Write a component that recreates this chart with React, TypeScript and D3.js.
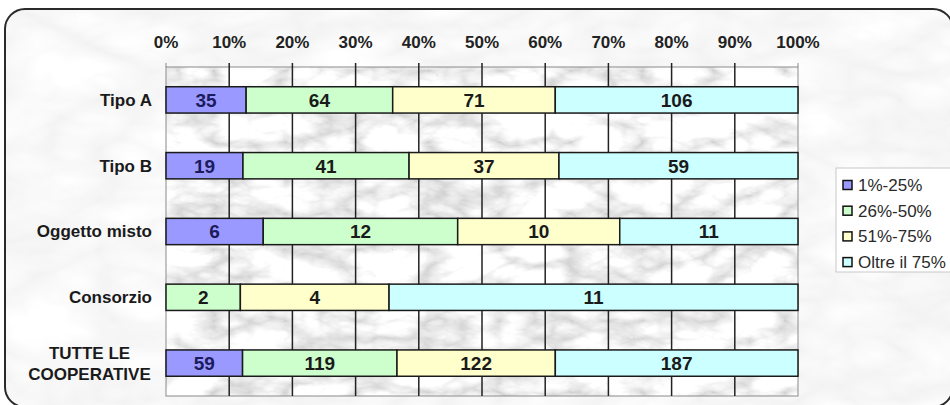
import React from "react";
import * as d3 from "d3";

// Cooperative types and how many cooperatives fall in each share band
const categories = ["Tipo A", "Tipo B", "Oggetto misto", "Consorzio", "TUTTE LE COOPERATIVE"];
const categoryLines: Record<string, string[]> = {
  "TUTTE LE COOPERATIVE": ["TUTTE LE", "COOPERATIVE"],
};
const seriesNames = ["1%-25%", "26%-50%", "51%-75%", "Oltre il 75%"];
const band1 = [35, 19, 6, 0, 59];
const band2 = [64, 41, 12, 2, 119];
const band3 = [71, 37, 10, 4, 122];
const band4 = [106, 59, 11, 11, 187];
const tickValues = [0, 0.1, 0.2, 0.3, 0.4, 0.5, 0.6, 0.7, 0.8, 0.9, 1];
const seriesColors = ["#9999ff", "#ccffcc", "#ffffcc", "#ccffff"];
const labelColors = ["#1c1c5c", "#1a1a1a", "#1a1a1a", "#1a1a1a"];

const W = 950;
const H = 405;
const FONT = "Liberation Sans, Arial, sans-serif";

export default function App() {
  const rows = categories.map((c, i) => ({
    cat: c,
    [seriesNames[0]]: band1[i],
    [seriesNames[1]]: band2[i],
    [seriesNames[2]]: band3[i],
    [seriesNames[3]]: band4[i],
  }));
  const stacked = d3
    .stack<any>()
    .keys(seriesNames)
    .offset(d3.stackOffsetExpand)(rows);

  const x = d3.scaleLinear().domain([0, 1]).range([166, 798]);
  const y = d3
    .scaleBand<string>()
    .domain(categories)
    .range([67, 396])
    .paddingInner(0.6)
    .paddingOuter(0.3);
  const fmt = d3.format(".0%");
  const [py0, py1] = y.range();

  return (
    <svg
      width={W}
      height={H}
      style={{ position: "absolute", left: 0, top: 0 }}
      fontFamily={FONT}
    >
      <defs>
        <filter id="marble" x="0" y="0" width="100%" height="100%" filterUnits="objectBoundingBox">
          <feTurbulence type="turbulence" baseFrequency="0.014 0.028" numOctaves={4} seed={7} result="t" />
          <feColorMatrix
            in="t"
            type="matrix"
            values="0.95 0 0 0 0.63  0.95 0 0 0 0.63  0.95 0 0 0 0.63  0 0 0 0 1"
          />
        </filter>
        <filter id="paper" x="0" y="0" width="100%" height="100%" filterUnits="objectBoundingBox">
          <feTurbulence type="turbulence" baseFrequency="0.01 0.02" numOctaves={3} seed={3} result="t" />
          <feColorMatrix
            in="t"
            type="matrix"
            values="0.18 0 0 0 0.89  0.18 0 0 0 0.89  0.18 0 0 0 0.89  0 0 0 0 1"
          />
        </filter>
        <clipPath id="frame">
          <rect x={5} y={9} width={948} height={398} rx={20} />
        </clipPath>
      </defs>

      <rect x={0} y={0} width={W} height={H} fill="#ffffff" />
      <rect x={5} y={9} width={948} height={398} fill="#eeeeee" filter="url(#paper)" clipPath="url(#frame)" />
      <rect x={5} y={9} width={948} height={398} rx={20} fill="none" stroke="#2a2a2a" strokeWidth={2} />

      {/* plot area */}
      <rect x={x(0)} y={py0} width={x(1) - x(0)} height={py1 - py0} fill="#d8d8d8" filter="url(#marble)" />
      <rect x={x(0)} y={py0} width={x(1) - x(0)} height={py1 - py0} fill="none" stroke="#8a8a8a" strokeWidth={1} />

      {tickValues.map((t) => (
        <g key={t}>
          {t > 0 && t < 1 && (
            <line x1={x(t)} x2={x(t)} y1={py0 - 4} y2={py1} stroke="#222" strokeWidth={1.5} />
          )}
          {(t === 0 || t === 1) && (
            <line x1={x(t)} x2={x(t)} y1={py0 - 4} y2={py0} stroke="#8a8a8a" strokeWidth={1} />
          )}
          <text
            x={x(t)}
            y={42}
            textAnchor="middle"
            dy="0.35em"
            fontSize={17}
            fontWeight="bold"
            fill="#222"
          >
            {fmt(t)}
          </text>
        </g>
      ))}

      {/* category labels */}
      {categories.map((c) => {
        const cy = (y(c) as number) + y.bandwidth() / 2;
        const lines = categoryLines[c];
        if (lines) {
          return (
            <text key={c} x={89.5} textAnchor="middle" fontSize={17} fontWeight="bold" fill="#1a1a1a">
              {lines.map((l, i) => (
                <tspan key={l} x={89.5} y={cy + (i - (lines.length - 1) / 2) * 21} dy="0.35em">
                  {l}
                </tspan>
              ))}
            </text>
          );
        }
        return (
          <text key={c} x={152} y={cy} dy="0.35em" textAnchor="end" fontSize={17} fontWeight="bold" fill="#1a1a1a">
            {c}
          </text>
        );
      })}

      {/* stacked bars */}
      {stacked.map((s, si) => (
        <g key={s.key}>
          {s.map((d, i) => {
            const v = rows[i][s.key] as number;
            if (!v) return null;
            const x0 = x(d[0]);
            const x1 = x(d[1]);
            const by = y(categories[i]) as number;
            return (
              <g key={i}>
                <rect
                  x={x0}
                  y={by}
                  width={x1 - x0}
                  height={y.bandwidth()}
                  fill={seriesColors[si]}
                  stroke="#1a1a1a"
                  strokeWidth={1.5}
                />
                <text
                  x={(x0 + x1) / 2}
                  y={by + y.bandwidth() / 2}
                  dy="0.36em"
                  textAnchor="middle"
                  fontSize={19}
                  fontWeight="bold"
                  fill={labelColors[si]}
                >
                  {v}
                </text>
              </g>
            );
          })}
        </g>
      ))}

      {/* legend */}
      <rect x={836} y={168} width={130} height={104} fill="#ffffff" stroke="#c8c8c8" strokeWidth={1} />
      {seriesNames.map((n, i) => {
        const ly = 185 + i * 25.7;
        return (
          <g key={n}>
            <rect x={843} y={ly - 4.5} width={9} height={9} fill={seriesColors[i]} stroke="#111" strokeWidth={1.5} />
            <text x={858} y={ly} dy="0.35em" fontSize={17} fill="#2a2a2a">
              {n}
            </text>
          </g>
        );
      })}
    </svg>
  );
}
